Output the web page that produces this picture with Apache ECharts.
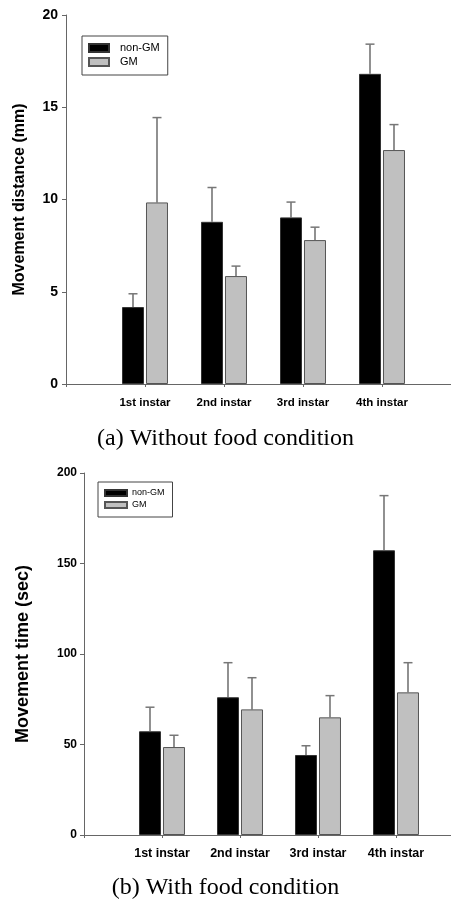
<!DOCTYPE html>
<html>
<head>
<meta charset="utf-8">
<script src="https://cdn.jsdelivr.net/npm/echarts@6/dist/echarts.min.js"></script>
<style>html,body{margin:0;padding:0;background:#fff;}#c{width:451px;height:904px;}</style>
</head>
<body>
<div id="c"></div>
<script>
var categories = ['', '1st instar', '2nd instar', '3rd instar', '4th instar', ''];
var seriesNames = ['non-GM', 'GM'];
// (a) Without food condition - movement distance (mm)
var distNonGM = [4.17, 8.79, 9.03, 16.81];
var distNonGMErr = [4.89, 10.65, 9.86, 18.42];
var distGM = [9.84, 5.85, 7.80, 12.68];
var distGMErr = [14.44, 6.39, 8.50, 14.06];
// (b) With food condition - movement time (sec)
var timeNonGM = [57.3, 76.1, 44.2, 157.3];
var timeNonGMErr = [70.6, 95.2, 49.3, 187.5];
var timeGM = [48.6, 69.4, 65.0, 78.8];
var timeGMErr = [55.1, 86.9, 77.0, 95.2];
var distTicks = [0, 20, 5];
var timeTicks = [0, 200, 50];

function barData(vals) { return [null].concat(vals).concat([null]); }
function errData(vals, tops) {
  return vals.map(function (v, i) { return [i + 1, v, tops[i]]; });
}
function errRender(offset, capW) {
  return function (params, api) {
    var p0 = api.coord([api.value(0), api.value(1)]);
    var p1 = api.coord([api.value(0), api.value(2)]);
    var x = p0[0] + offset;
    return {
      type: 'group',
      children: [
        { type: 'line', shape: { x1: x, y1: p0[1], x2: x, y2: p1[1] }, style: { stroke: '#555', lineWidth: 1.3 } },
        { type: 'line', shape: { x1: x - capW / 2, y1: p1[1], x2: x + capW / 2, y2: p1[1] }, style: { stroke: '#777', lineWidth: 1.5 } }
      ]
    };
  };
}
var blackStyle = { color: '#000', borderColor: '#333', borderWidth: 1 };
var greyStyle = { color: '#c0c0c0', borderColor: '#555', borderWidth: 1 };
var axisLineStyle = { lineStyle: { color: '#666', width: 1 } };

var chart = echarts.init(document.getElementById('c'), null, { renderer: 'canvas' });
chart.setOption({
  animation: false,
  backgroundColor: '#fff',
  grid: [
    { left: 66, top: 15, width: 395, height: 369, outerBoundsMode: 'none', containLabel: false },
    { left: 84, top: 473, width: 390, height: 362, outerBoundsMode: 'none', containLabel: false }
  ],
  legend: [
    {
      data: seriesNames, orient: 'vertical', left: 82, top: 36, icon: 'rect',
      itemWidth: 20, itemHeight: 8, itemGap: 0, padding: [5, 8, 6, 6],
      borderColor: '#444', borderWidth: 1, selectedMode: false,
      textStyle: { fontFamily: 'Arial, Liberation Sans', fontSize: 11, color: '#000', lineHeight: 14, padding: [0, 0, 0, 6] }
    },
    {
      data: seriesNames, orient: 'vertical', left: 98, top: 482, icon: 'rect',
      itemWidth: 22, itemHeight: 6, itemGap: 0, padding: [5, 8, 6, 6],
      borderColor: '#444', borderWidth: 1, selectedMode: false,
      textStyle: { fontFamily: 'Arial, Liberation Sans', fontSize: 9, color: '#000', lineHeight: 12, padding: [0, 0, 0, 0] }
    }
  ],
  xAxis: [
    {
      gridIndex: 0, type: 'category', data: categories, boundaryGap: false,
      axisLine: axisLineStyle, axisTick: { show: true, length: 3, lineStyle: { color: '#666' } },
      axisLabel: { interval: 0, margin: 13, fontFamily: 'Arial, Liberation Sans', fontWeight: 'bold', fontSize: 11.5, color: '#000' }
    },
    {
      gridIndex: 1, type: 'category', data: categories, boundaryGap: false,
      axisLine: axisLineStyle, axisTick: { show: true, length: 3, lineStyle: { color: '#666' } },
      axisLabel: { interval: 0, margin: 12, fontFamily: 'Arial, Liberation Sans', fontWeight: 'bold', fontSize: 12.5, color: '#000' }
    }
  ],
  yAxis: [
    {
      gridIndex: 0, type: 'value', min: distTicks[0], max: distTicks[1], interval: distTicks[2],
      name: 'Movement distance (mm)', nameLocation: 'middle', nameGap: 38,
      nameTextStyle: { fontFamily: 'Arial, Liberation Sans', fontWeight: 'bold', fontSize: 16, color: '#000' },
      axisLine: { show: true, lineStyle: { color: '#666' } }, axisTick: { show: true, length: 4, lineStyle: { color: '#666' } },
      splitLine: { show: false },
      axisLabel: { margin: 8, fontFamily: 'Arial, Liberation Sans', fontWeight: 'bold', fontSize: 14, color: '#000' }
    },
    {
      gridIndex: 1, type: 'value', min: timeTicks[0], max: timeTicks[1], interval: timeTicks[2],
      name: 'Movement time (sec)', nameLocation: 'middle', nameGap: 52,
      nameTextStyle: { fontFamily: 'Arial, Liberation Sans', fontWeight: 'bold', fontSize: 18, color: '#000' },
      axisLine: { show: true, lineStyle: { color: '#666' } }, axisTick: { show: true, length: 4, lineStyle: { color: '#666' } },
      splitLine: { show: false },
      axisLabel: { margin: 7, fontFamily: 'Arial, Liberation Sans', fontWeight: 'bold', fontSize: 12, color: '#000' }
    }
  ],
  graphic: [
    { type: 'text', left: 'center', top: 427, style: { text: '(a) Without food condition', fontFamily: 'Liberation Serif, Times New Roman, serif', fontSize: 24, fill: '#000' } },
    { type: 'text', left: 'center', top: 876, style: { text: '(b) With food condition', fontFamily: 'Liberation Serif, Times New Roman, serif', fontSize: 24, fill: '#000' } }
  ],
  series: [
    { name: 'non-GM', type: 'bar', xAxisIndex: 0, yAxisIndex: 0, data: barData(distNonGM), barWidth: 22, barGap: '9%', itemStyle: blackStyle },
    { name: 'GM', type: 'bar', xAxisIndex: 0, yAxisIndex: 0, data: barData(distGM), barWidth: 22, barGap: '9%', itemStyle: greyStyle },
    { name: 'errA1', type: 'custom', xAxisIndex: 0, yAxisIndex: 0, data: errData(distNonGM, distNonGMErr), renderItem: errRender(-12, 9), z: 3 },
    { name: 'errA2', type: 'custom', xAxisIndex: 0, yAxisIndex: 0, data: errData(distGM, distGMErr), renderItem: errRender(12, 9), z: 3 },
    { name: 'non-GM', type: 'bar', xAxisIndex: 1, yAxisIndex: 1, data: barData(timeNonGM), barWidth: 22, barGap: '9%', itemStyle: blackStyle },
    { name: 'GM', type: 'bar', xAxisIndex: 1, yAxisIndex: 1, data: barData(timeGM), barWidth: 22, barGap: '9%', itemStyle: greyStyle },
    { name: 'errB1', type: 'custom', xAxisIndex: 1, yAxisIndex: 1, data: errData(timeNonGM, timeNonGMErr), renderItem: errRender(-12, 9), z: 3 },
    { name: 'errB2', type: 'custom', xAxisIndex: 1, yAxisIndex: 1, data: errData(timeGM, timeGMErr), renderItem: errRender(12, 9), z: 3 }
  ]
});
</script>
</body>
</html>
